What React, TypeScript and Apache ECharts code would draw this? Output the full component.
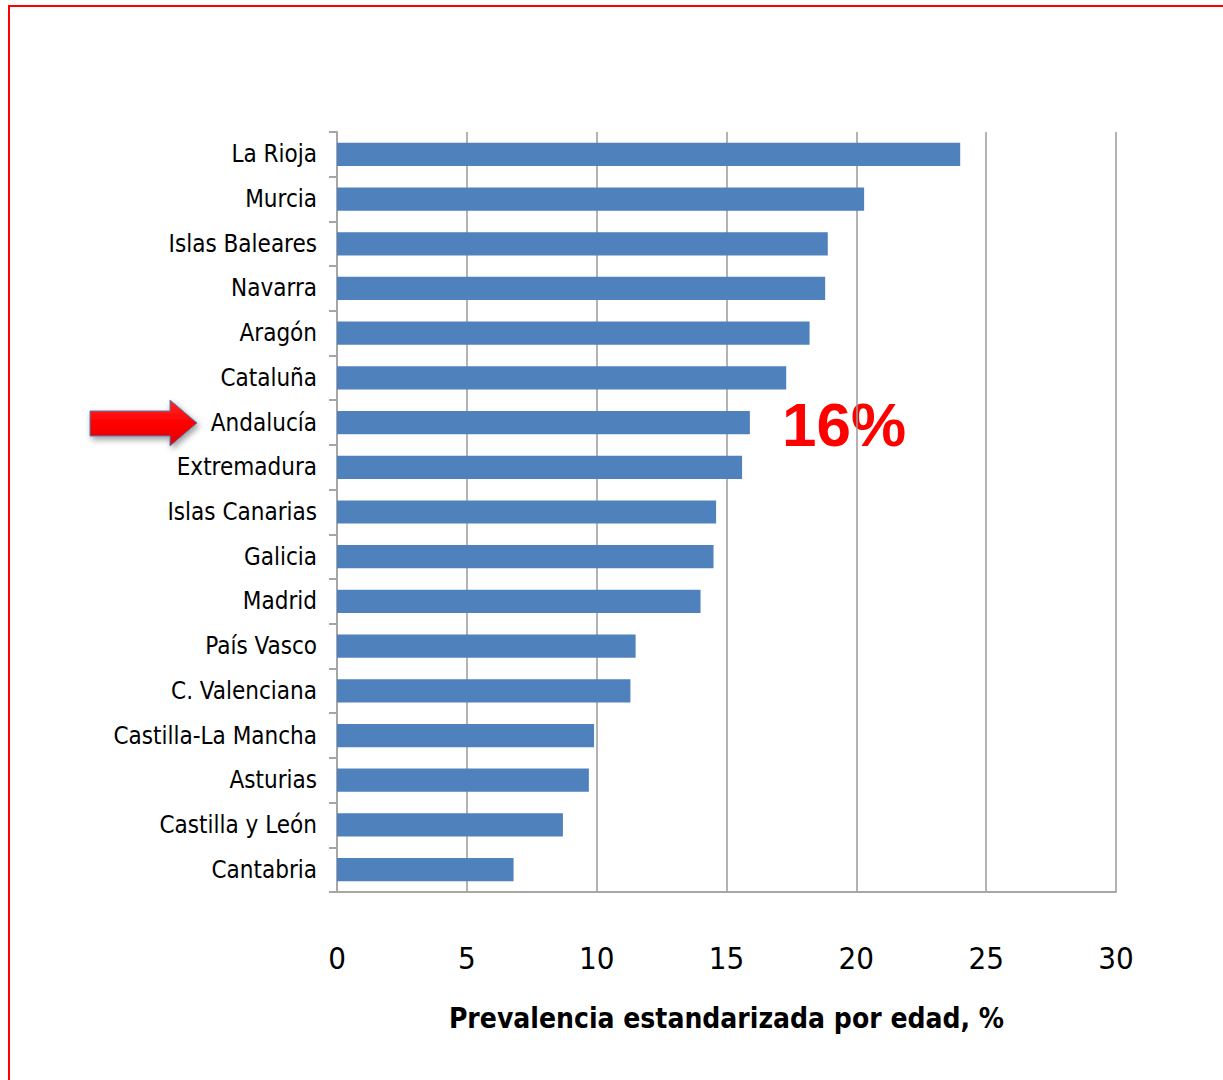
import React, { useEffect, useRef } from "react";
import * as echarts from "echarts";

const categories = [
  "La Rioja", "Murcia", "Islas Baleares", "Navarra", "Aragón", "Cataluña",
  "Andalucía", "Extremadura", "Islas Canarias", "Galicia", "Madrid",
  "País Vasco", "C. Valenciana", "Castilla-La Mancha", "Asturias",
  "Castilla y León", "Cantabria",
];
const values = [24.0, 20.3, 18.9, 18.8, 18.2, 17.3, 15.9, 15.6, 14.6, 14.5, 14.0, 11.5, 11.3, 9.9, 9.7, 8.7, 6.8];
const xTicks = [0, 5, 10, 15, 20, 25, 30];
const axisTitle = "Prevalencia estandarizada por edad, %";
const highlightLabel = "16%";

const FONT = "'Liberation Sans Narrow', 'DejaVu Sans Condensed', 'Open Sans', sans-serif";

export default function App() {
  const ref = useRef<HTMLDivElement>(null);
  useEffect(() => {
    if (!ref.current) return;
    const chart = echarts.init(ref.current, undefined, { renderer: "svg" });
    chart.setOption({
      animation: false,
      backgroundColor: "#ffffff",
      grid: { left: 337, right: 107, top: 132, bottom: 188 },
      xAxis: {
        type: "value",
        min: xTicks[0],
        max: xTicks[xTicks.length - 1],
        interval: 5,
        axisLine: { show: true, lineStyle: { color: "#a6a6a6", width: 2 } },
        axisTick: { show: false },
        splitLine: { show: true, lineStyle: { color: "#9a9a9a", width: 1.5 } },
        axisLabel: { fontSize: 31, color: "#000", margin: 50, fontFamily: FONT },
        name: axisTitle,
        nameLocation: "middle",
        nameGap: 112,
        nameTextStyle: { fontSize: 28, fontWeight: "bold", color: "#000", fontFamily: FONT },
      },
      yAxis: {
        type: "category",
        data: categories,
        inverse: true,
        axisLine: { show: true, lineStyle: { color: "#a6a6a6", width: 2 } },
        axisTick: { show: true, length: 8, lineStyle: { color: "#a6a6a6", width: 2 } },
        axisLabel: { fontSize: 24, color: "#000", margin: 20, fontFamily: FONT },
      },
      series: [
        {
          type: "bar",
          data: values,
          barWidth: "52%",
          itemStyle: { color: "#4f81bd" },
        },
      ],
      graphic: [
        {
          type: "rect",
          shape: { x: 9, y: 6, width: 1300, height: 1200 },
          style: { fill: "none", stroke: "#ff0000", lineWidth: 2 },
          silent: true,
        },
        {
          type: "polygon",
          shape: {
            points: [
              [90, 411], [170, 411], [170, 400], [197, 423], [170, 446], [170, 436], [90, 436],
            ],
          },
          style: {
            fill: new echarts.graphic.LinearGradient(0, 0, 0, 1, [
              { offset: 0, color: "#ff2a2a" },
              { offset: 0.5, color: "#ff0000" },
              { offset: 1, color: "#e00000" },
            ]),
            stroke: "#4a7ebb",
            lineWidth: 1,
            shadowBlur: 6,
            shadowOffsetX: 2,
            shadowOffsetY: 3,
            shadowColor: "rgba(0,0,0,0.4)",
          },
        },
        {
          type: "text",
          x: 782,
          y: 424,
          style: {
            text: highlightLabel,
            fill: "#ff0000",
            font: "bold 62px 'Liberation Sans', Arial, sans-serif",
            textVerticalAlign: "middle",
            verticalAlign: "middle",
          },
        },
      ],
    });
    return () => chart.dispose();
  }, []);
  return (
    <div
      ref={ref}
      style={{ position: "absolute", left: 0, top: 0, width: 1223, height: 1080 }}
    />
  );
}
